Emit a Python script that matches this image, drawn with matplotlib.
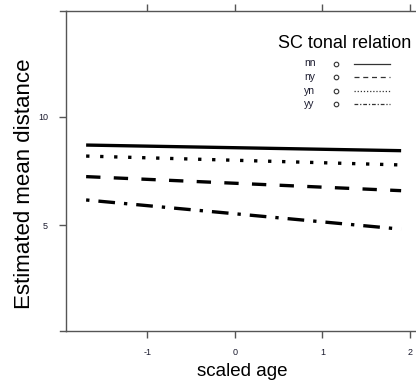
import matplotlib
matplotlib.use("Agg")
import matplotlib.pyplot as plt
from matplotlib.lines import Line2D

plt.rcParams["font.family"] = ["Liberation Sans", "DejaVu Sans"]

# predicted mean distance at the ends of the scaled-age range
age = [-1.7, 1.9]
relations = ["nn", "ny", "yn", "yy"]
dist_nn = [8.70, 8.44]
dist_ny = [7.24, 6.59]
dist_yn = [8.19, 7.78]
dist_yy = [6.16, 4.81]
series = {"nn": dist_nn, "ny": dist_ny, "yn": dist_yn, "yy": dist_yy}

x_ticks = [-1, 0, 1, 2]
y_ticks = [5, 10]

styles = {
    "nn": "-",
    "ny": (0, (4.3, 4.0)),
    "yn": (0, (1.0, 3.2)),
    "yy": (0, (1.0, 2.7, 5.0, 2.7)),
}
legend_styles = {
    "nn": "-",
    "ny": (0, (4, 3)),
    "yn": (0, (1, 1.5)),
    "yy": (0, (3, 1.5, 1, 1.5)),
}

W, H = 416, 385
fig = plt.figure(figsize=(W / 100, H / 100), dpi=100)
ax = fig.add_axes([66 / W, 1 - 331 / H, 357 / W, 320 / H])

for rel in relations:
    ax.plot(age, series[rel], color="black", lw=2.4,
            linestyle=styles[rel], solid_capstyle="butt", dash_capstyle="butt")

ax.set_xlim(-1.93, 2.15)
ax.set_ylim(0.1, 14.9)
ax.set_xticks(x_ticks)
ax.set_yticks(y_ticks)
ax.set_xticklabels([str(t) for t in x_ticks])
ax.set_yticklabels([str(t) for t in y_ticks])

axis_col = "#555555"
for side in ["left", "top", "bottom"]:
    ax.spines[side].set_color(axis_col)
    ax.spines[side].set_linewidth(1.0)
ax.spines["right"].set_visible(False)
ax.tick_params(axis="both", which="both", direction="out", length=5,
               width=1.0, color=axis_col, labelsize=6.5, labelcolor="#1a1a2e")
ax.tick_params(axis="x", top=True, labeltop=False, pad=7)
ax.tick_params(axis="y", pad=8)

# top/bottom axis lines run a little past the left axis
for yy in (0, 1):
    ax.add_line(Line2D([-0.017, 0], [yy, yy], transform=ax.transAxes,
                       color=axis_col, lw=1.0, clip_on=False))

fig.text(242 / W, 1 - 372 / H, "scaled age", fontsize=13.5,
         ha="center", va="center")
fig.text(25 / W, 1 - 184 / H, "Estimated mean distance", fontsize=16,
         rotation=90, ha="center", va="center")

# key
fig.text(278 / W, 1 - 48.5 / H, "SC tonal relation", fontsize=13,
         ha="left", va="baseline")
rows_y = [63.5, 77, 91, 104.5]
for rel, ry in zip(relations, rows_y):
    yf = 1 - ry / H
    fig.text(304 / W, yf, rel, fontsize=7.5, ha="left", va="center",
             color="#1a1a2e")
    fig.add_artist(Line2D([336 / W], [yf], marker="o", markersize=3.3,
                          markerfacecolor="white", markeredgecolor="#333333",
                          markeredgewidth=0.8, linestyle="none",
                          transform=fig.transFigure))
    fig.add_artist(Line2D([354 / W, 390 / W], [yf, yf], color="#333333",
                          lw=0.9, linestyle=legend_styles[rel],
                          transform=fig.transFigure))

fig.savefig("out.png", dpi=100, facecolor="white")
